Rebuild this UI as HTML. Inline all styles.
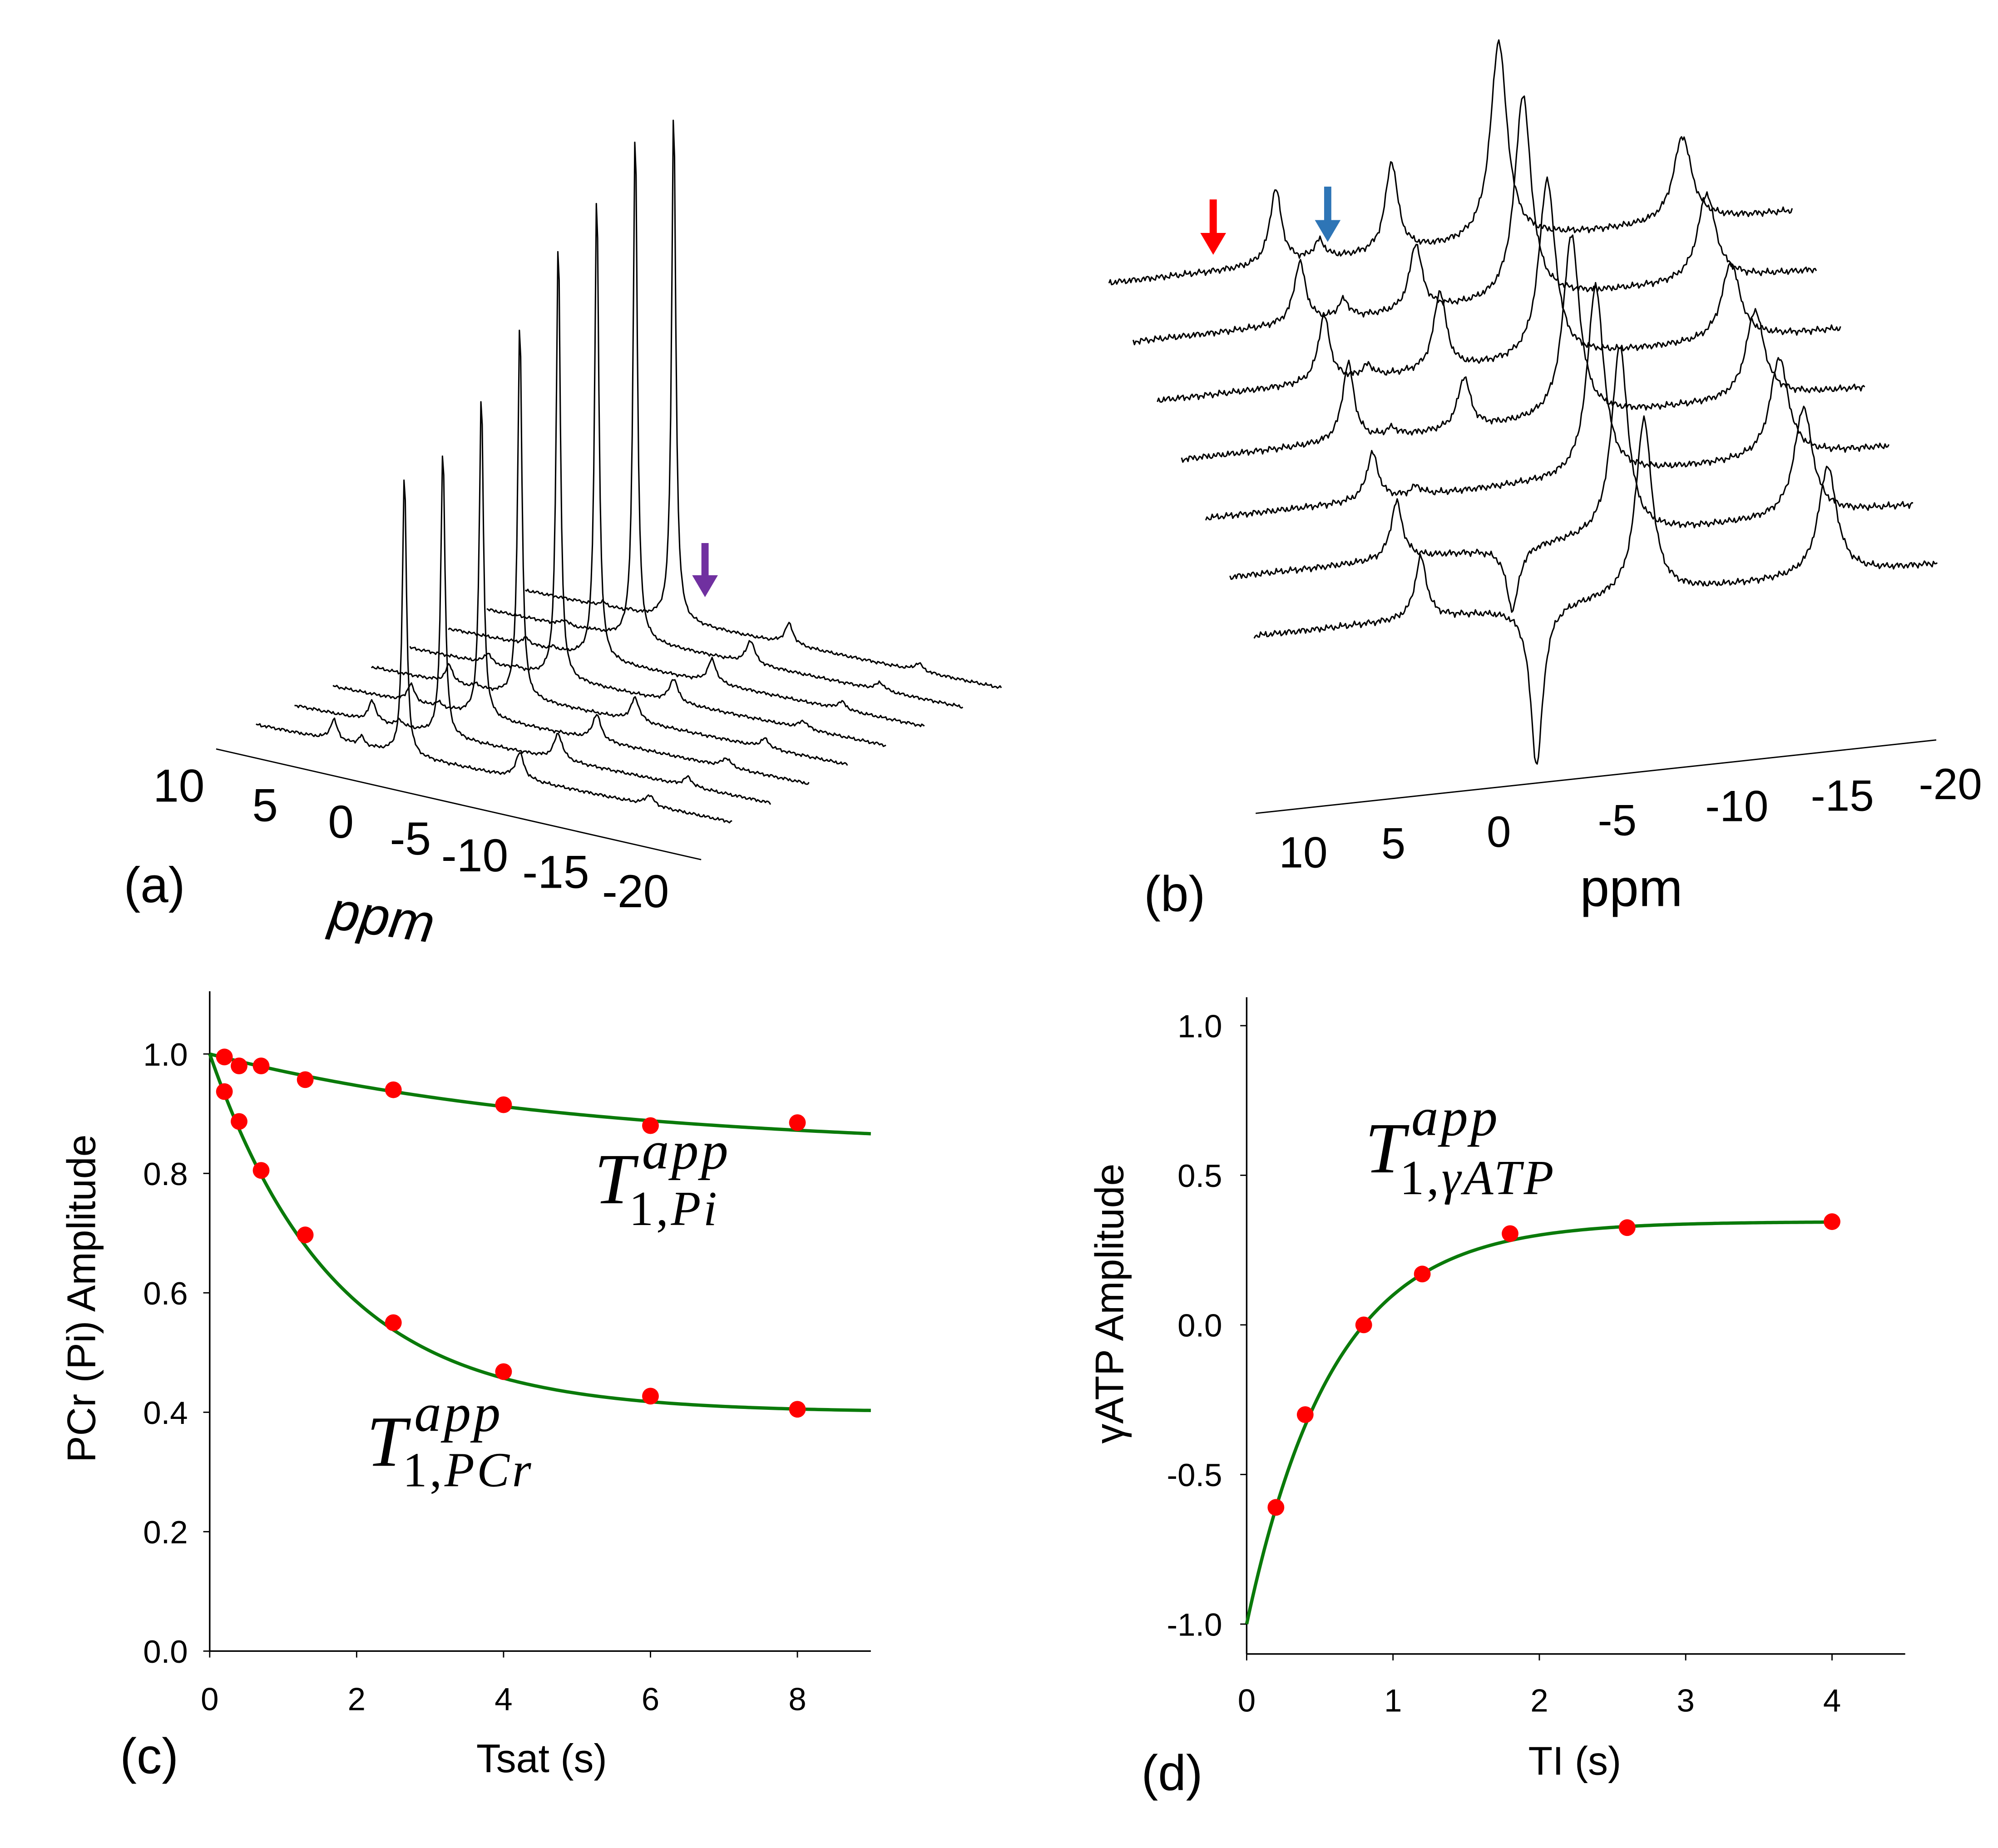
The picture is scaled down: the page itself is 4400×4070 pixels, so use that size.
<!DOCTYPE html>
<html><head><meta charset="utf-8"><title>31P NMR saturation transfer figure</title>
<style>
html,body{margin:0;padding:0;background:#fff;}
svg{display:block;}
text{font-family:"Liberation Sans",sans-serif;fill:#000;}
.serif{font-family:"Liberation Serif",serif;}
</style></head>
<body>
<svg id="fig" xmlns="http://www.w3.org/2000/svg" width="4400" height="4070" viewBox="0 0 1553 1436" preserveAspectRatio="none">
<rect width="1553" height="1436" fill="#fff"/>
<g id="panelA"></g>
<g id="panelB"></g>
<g id="panelC"></g>
<g id="panelD"></g>
</svg>
<script>
// ---------- Panel (a) data ----------
const aPcr = [220,226,252,296,343,366,401,402];
const aPi = [16,16,14,14,8,5,4,3];
const aP3 = [7,5,4,3,2,2,1,1];
const aG = [20,20,20,18,18,18,18,16];
const aA = [8,7,7,7,6,6,6,6];
const aPpm = [4.9,3.0,0,-8,-17];
const aTicks = ["10","5","0","-5","-10","-15","-20"];
// ---------- Panel (b) data ----------
const b10 = [59,48,52,61,37,45,48];
const b8 = [14,14,9,6,7,0,0];
const bPi = [70,52,61,40,0,-50,-125];
const bPcr = [156,160,140,143,149,148,137];
const bG = [67,68,60,69,78,85,85];
const bPpm = [10.2,8.2,4.9,0,-8.4];
const bTicks = ["10","5","0","-5","-10","-15","-20"];
// ---------- Panel (c) data ----------
const cTsat = [0.2,0.4,0.7,1.3,2.5,4,6,8];
const cPi = [0.995,0.98,0.98,0.957,0.94,0.915,0.88,0.885];
const cPcr = [0.937,0.887,0.805,0.697,0.55,0.468,0.427,0.405];
const cPiFit = [0.84,0.16,5.0];
const cPcrFit = [0.40,0.60,1.7];
const cXTicks = [0,2,4,6,8];
const cYTicks = [0,0.2,0.4,0.6,0.8,1.0];
// ---------- Panel (d) data ----------
const dTI = [0.2,0.4,0.8,1.2,1.8,2.6,4];
const dG = [-0.61,-0.30,0.0,0.17,0.305,0.325,0.345];
const dFit = [0.345,-1.345,0.588];
const dXTicks = [0,1,2,3,4];
const dYTicks = [-1.0,-0.5,0.0,0.5,1.0];

const NS = "http://www.w3.org/2000/svg";
function mk(parent, tag, attrs, txt){
  const e = document.createElementNS(NS, tag);
  for (const k in attrs) e.setAttribute(k, attrs[k]);
  if (txt !== undefined) e.textContent = txt;
  parent.appendChild(e);
  return e;
}
function wiggle(s, k){
  return Math.sin(s*1.73+k*3.1)*0.5 + Math.sin(s*0.61+k*1.3)*0.3 + Math.sin(s*2.93+k*5.7)*0.25;
}
function lor(ppm, c, w){ const d=(ppm-c)/w; return 1/(1+d*d); }

function spectrum(g, name, x0, y0, len, slope, ppm0, ppp, heights, ppms, widths, noiseAmp, k){
  let d = "";
  for (let s=0; s<=len; s+=1){
    const ppm = ppm0 - s/ppp;
    let y = y0 + s*slope;
    for (let j=0;j<heights.length;j++) y -= heights[j]*lor(ppm, ppms[j], widths[j]);
    y -= noiseAmp*wiggle(s,k);
    d += (s===0?"M":"L") + (x0+s).toFixed(1) + "," + y.toFixed(2);
  }
  const p = mk(g,"path",{d:d,fill:"none",stroke:"#000","stroke-width":1.1,"stroke-linejoin":"round"});
  
  
}
function arrow(g, name, x, y1, y2, color){
  const a = mk(g,"path",{d:`M${x-2.8},${y1} L${x+2.8},${y1} L${x+2.8},${y2-17} L${x+10},${y2-17} L${x},${y2} L${x-10},${y2-17} L${x-2.8},${y2-17} Z`,fill:color});
  
  
}

// ---------- Panel A ----------
(function(){
  const g = document.getElementById("panelA");
  for (let i=aPcr.length-1;i>=0;i--){
    spectrum(g, "spectrum-a-"+(i+1), 199+29.9*i, 563-14.9*i, 370, 0.205, 10.3, 11.2,
      [aPi[i],aP3[i],aPcr[i],aG[i],aA[i]], aPpm, [0.3,0.25,0.17,0.35,0.35], 1.5, i*7+1);
  }
  const ax = mk(g,"line",{x1:168,y1:582,x2:545,y2:668,stroke:"#000","stroke-width":1});
  
  
  const pos = [[139,610],[206,625],[265,638],[319,651],[369,664],[432,677],[494,692]];
  aTicks.forEach((t,i)=>{
    const e = mk(g,"text",{x:pos[i][0],y:pos[i][1]+13,"font-size":36,"text-anchor":"middle"},t);
    
    
  });
  const pl = mk(g,"text",{x:297,y:727,"font-size":42,"font-style":"italic","text-anchor":"middle",transform:"rotate(8 297 714)"},"ppm");
  
  
  const lab = mk(g,"text",{x:120,y:701,"font-size":39,"text-anchor":"middle"},"(a)");
  
  
  arrow(g,"purple-arrow",548,422,464,"#7030a0");
})();

// ---------- Panel B ----------
(function(){
  const g = document.getElementById("panelB");
  for (let i=0;i<bPcr.length;i++){
    spectrum(g, "spectrum-b-"+(i+1), 862+18.8*i, 220+45.7*i, 531, -0.105, 17.82, 17,
      [b10[i],b8[i],bPi[i],bPcr[i],bG[i]], bPpm, [0.32,0.3,0.34,0.45,0.5], 3, i*5+2);
  }
  const ax = mk(g,"line",{x1:976,y1:632,x2:1505,y2:575,stroke:"#000","stroke-width":1});
  
  
  const pos = [[1013,662],[1083,655],[1165,646],[1257,637],[1350,626],[1432,618],[1516,609]];
  bTicks.forEach((t,i)=>{
    const e = mk(g,"text",{x:pos[i][0],y:pos[i][1]+12,"font-size":34,"text-anchor":"middle"},t);
    
    
  });
  const pl = mk(g,"text",{x:1268,y:704,"font-size":41,"text-anchor":"middle"},"ppm");
  
  
  const lab = mk(g,"text",{x:913,y:708,"font-size":39,"text-anchor":"middle"},"(b)");
  
  
  arrow(g,"red-arrow",943,155,198,"#ff0000");
  arrow(g,"blue-arrow",1032,145,188,"#2e75b6");
})();

// ---------- generic chart ----------
function chart(g, o){
  const X = v => o.x0 + v*o.xu;
  const Y = v => o.yBase - (v - o.yMinV)*o.yu;
  const ya = mk(g,"line",{x1:o.x0,y1:Y(o.yTop),x2:o.x0,y2:Y(o.yBot),stroke:"#000","stroke-width":1.2});
  
  
  const xa = mk(g,"line",{x1:o.x0,y1:Y(o.yBot),x2:X(o.xMax),y2:Y(o.yBot),stroke:"#000","stroke-width":1.2});
  
  
  o.xt.forEach(v=>{
    const t = mk(g,"line",{x1:X(v),y1:Y(o.yBot),x2:X(v),y2:Y(o.yBot)+5,stroke:"#000","stroke-width":1});
    
    
    const l = mk(g,"text",{x:X(v),y:o.xLabY,"font-size":25,"text-anchor":"middle"},String(v));
    
    
  });
  o.yt.forEach(v=>{
    const t = mk(g,"line",{x1:o.x0-5,y1:Y(v),x2:o.x0,y2:Y(v),stroke:"#000","stroke-width":1});
    
    
    const l = mk(g,"text",{x:o.yLabX,y:Y(v)+9,"font-size":25,"text-anchor":"end"},v.toFixed(1));
    
    
  });
  o.fits.forEach((f,fi)=>{
    let d="";
    for (let i=0;i<=200;i++){
      const t = f.t1*i/200;
      const v = f.p[0] + f.p[1]*Math.exp(-t/f.p[2]);
      d += (i?"L":"M")+X(t).toFixed(2)+","+Y(v).toFixed(2);
    }
    const p = mk(g,"path",{d:d,fill:"none",stroke:"#0a7a0a","stroke-width":2.6});
    
    
  });
  o.series.forEach(s=>{
    s.x.forEach((xv,i)=>{
      const c = mk(g,"circle",{cx:X(xv),cy:Y(s.y[i]),r:6.5,fill:"#ff0000"});
      
      
    });
  });
}
function ann(g, name, tx, ty, ax, ay, sx, sy, subParts){
  const grp = mk(g,"g",{});
  
  
  mk(grp,"text",{x:tx,y:ty,"font-size":56,"font-style":"italic",class:"serif"},"T");
  mk(grp,"text",{x:ax,y:ay,"font-size":42,"font-style":"italic",class:"serif","letter-spacing":2},"app");
  const s = mk(grp,"text",{x:sx,y:sy,"font-size":38,class:"serif","letter-spacing":2});
  subParts.forEach(p=>{ mk(s,"tspan",{"font-style":p[1]?"italic":"normal"},p[0]); });
}

// ---------- Panel C ----------
(function(){
  const g = document.getElementById("panelC");
  chart(g,{x0:163,xu:57.1,yBase:1283,yMinV:0,yu:464,yTop:1.105,yBot:0,xMax:9,
    xt:cXTicks,yt:cYTicks,xLabY:1329,yLabX:146,
    fits:[{name:"fit-curve-pi",p:cPiFit,t1:9},{name:"fit-curve-pcr",p:cPcrFit,t1:9}],
    series:[{name:"data-point-pi",x:cTsat,y:cPi},{name:"data-point-pcr",x:cTsat,y:cPcr}]});
  const xl = mk(g,"text",{x:421,y:1377,"font-size":31,"text-anchor":"middle"},"Tsat (s)");
  
  
  const yl = mk(g,"text",{x:63,y:1009,"font-size":31,"text-anchor":"middle",transform:"rotate(-90 63 1009)",dy:"11"},"PCr (Pi) Amplitude");
  
  
  const lab = mk(g,"text",{x:116,y:1378,"font-size":39,"text-anchor":"middle"},"(c)");
  
  
  ann(g,"annotation-t1-pi",462,935,499,908,489,952,[["1,",false],["Pi",true]]);
  ann(g,"annotation-t1-pcr",285,1139,322,1112,313,1155,[["1,",false],["PCr",true]]);
})();

// ---------- Panel D ----------
(function(){
  const g = document.getElementById("panelD");
  chart(g,{x0:969,xu:113.75,yBase:1262,yMinV:-1,yu:232.5,yTop:1.095,yBot:-1.1,xMax:4.5,
    xt:dXTicks,yt:dYTicks,xLabY:1330,yLabX:950,
    fits:[{name:"fit-curve-gatp",p:dFit,t1:4}],
    series:[{name:"data-point-gatp",x:dTI,y:dG}]});
  const xl = mk(g,"text",{x:1224,y:1379,"font-size":31,"text-anchor":"middle"},"TI (s)");
  
  
  const yl = mk(g,"text",{x:862,y:1013,"font-size":31,"text-anchor":"middle",transform:"rotate(-90 862 1013)",dy:"11"},"γATP Amplitude");
  
  
  const lab = mk(g,"text",{x:911,y:1391,"font-size":39,"text-anchor":"middle"},"(d)");
  
  
  ann(g,"annotation-t1-gatp",1061,911,1097,882,1088,928,[["1,",false],["γATP",true]]);
})();
</script>
</body></html>
